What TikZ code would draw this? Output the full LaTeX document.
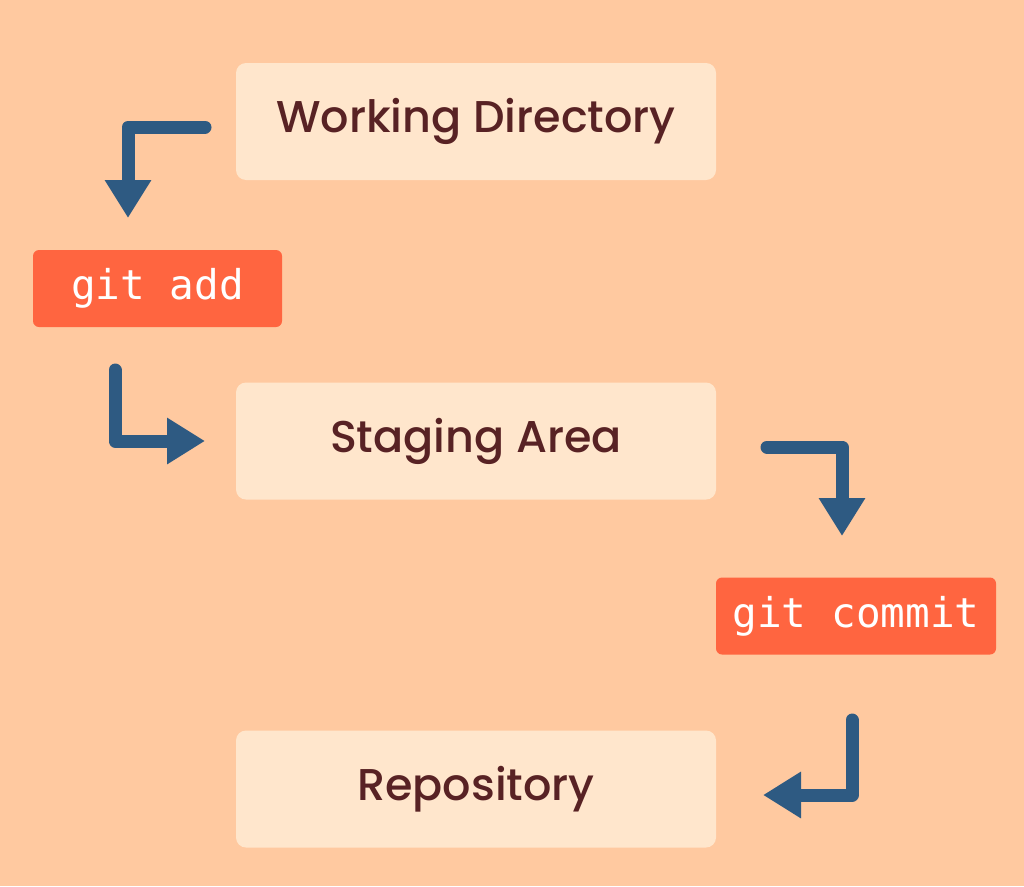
\documentclass[tikz,border=0pt]{standalone}
\usepackage{fontspec}
\setmainfont{Poppins Medium}
\newfontfamily\codefont{DejaVu Sans Mono}
\usetikzlibrary{arrows.meta}
\definecolor{bgc}{RGB}{255,201,160}
\definecolor{boxc}{RGB}{255,230,204}
\definecolor{cmdc}{RGB}{255,101,64}
\definecolor{txtc}{RGB}{88,34,36}
\definecolor{arrc}{RGB}{46,90,130}
\tikzset{
  stage/.style={fill=boxc, rounded corners=10pt, minimum width=480pt, minimum height=117pt, inner sep=0pt,
    text=txtc, font=\fontsize{44.5}{52}\selectfont},
  cmd/.style={fill=cmdc, rounded corners=6pt, minimum height=77pt, inner sep=0pt,
    text=white, font=\codefont\fontsize{41}{48}\selectfont},
  flow/.style={draw=arrc, line width=13pt, line cap=round, line join=round,
    -{Triangle[width=44pt,length=38pt]}},
}
\begin{document}
\begin{tikzpicture}[x=1pt,y=-1pt]
\fill[bgc] (0,0) rectangle (1024,886);
\useasboundingbox (0,0) rectangle (1024,886);
\node[stage] (wd) at (476,121.5) {Working Directory};
\node[stage] (sa) at (476,441) {Staging Area};
\node[stage] (repo) at (476,789) {Repository};
\node[cmd, minimum width=249pt] (add) at (157.5,288.5) {git add};
\node[cmd, minimum width=280pt] (commit) at (856,616) {git commit};
\coordinate (a1s) at (205,127);
\coordinate (a1e) at (128,218);
\coordinate (a2s) at (115,370);
\coordinate (a2e) at (205,441);
\coordinate (a3s) at (767,447);
\coordinate (a3e) at (842,536);
\coordinate (a4s) at (852,720);
\coordinate (a4e) at (763,795);
\draw[flow] (a1s) -| (a1e);
\draw[flow] (a2s) |- (a2e);
\draw[flow] (a3s) -| (a3e);
\draw[flow] (a4s) |- (a4e);
\end{tikzpicture}
\end{document}
